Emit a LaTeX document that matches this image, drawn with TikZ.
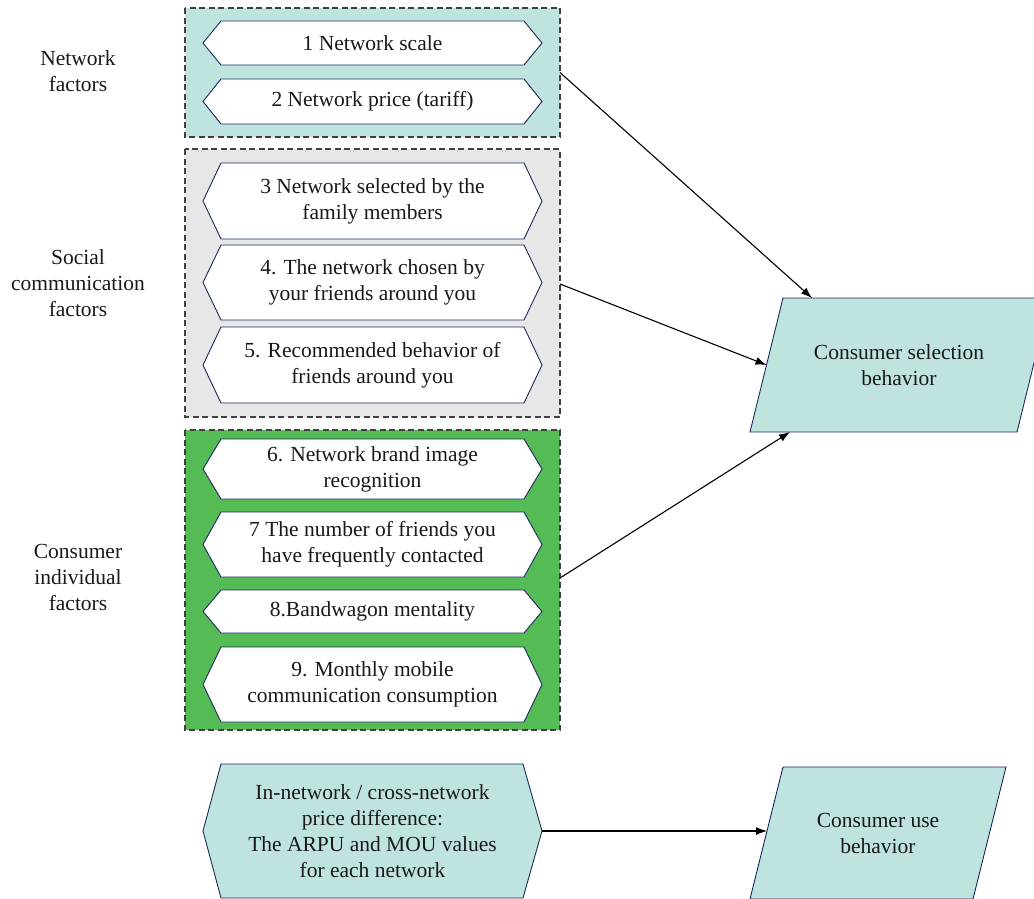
\documentclass[tikz,border=0pt]{standalone}
\usepackage{fontspec}
\setmainfont{Liberation Serif}
\newfontfamily\serfont{Liberation Serif}
\usetikzlibrary{arrows.meta,calc}
\definecolor{teal}{HTML}{BFE4E0}
\definecolor{lgray}{HTML}{E6E7E7}
\definecolor{grn}{HTML}{55BB55}
\definecolor{navy}{HTML}{1B2A5C}
\definecolor{dashc}{HTML}{404040}
\tikzset{
  hexline/.style={draw=navy,line width=0.9pt,fill=white,line join=miter},
  grpbox/.style={draw=dashc,line width=1.1pt,dash pattern=on 6pt off 3.5pt},
  txt/.style={align=center,inner sep=0pt,font=\serfont\fontsize{21.5}{26}\selectfont,text=black!90},
  arr/.style={line width=1.1pt,-{Latex[length=11pt,width=8pt]}},
}
\newcommand\hexbox[7]{% name, xl, xr, yt, yb, fill, text
  \draw[hexline,fill=#6] (#2,{(#4+#5)/2}) -- (#2+18,#4) -- (#3-18,#4) -- (#3,{(#4+#5)/2}) -- (#3-18,#5) -- (#2+18,#5) -- cycle;
  \node[txt] (#1) at ({(#2+#3)/2},{(#4+#5)/2}) {#7};}
\begin{document}
\begin{tikzpicture}[x=1pt,y=-1pt]
\useasboundingbox (0,0) rectangle (1034,898);
\begin{scope}
\clip (0,0) rectangle (1034,898);
% group boxes
\path[fill=teal,grpbox] (185,8) rectangle (560,137);
\path[fill=lgray,grpbox] (185,149) rectangle (560,417);
\path[fill=grn,grpbox] (185,430) rectangle (560,730);
\coordinate (g1) at (560,72.5);
\coordinate (g2) at (560,284);
\coordinate (g3) at (560,578);
% factor hexagons
\hexbox{h1}{203}{542}{21}{65}{white}{1 Network scale}
\hexbox{h2}{203}{542}{79}{124}{white}{2 Network price (tariff)}
\hexbox{h3}{203}{542}{163}{239}{white}{3 Network selected by the\\family members}
\hexbox{h4}{203}{542}{245}{320}{white}{4. The network chosen by\\your friends around you}
\hexbox{h5}{203}{542}{327}{403}{white}{5. Recommended behavior of\\friends around you}
\hexbox{h6}{203}{542}{439}{499}{white}{6. Network brand image\\recognition}
\hexbox{h7}{203}{542}{512}{577}{white}{7 The number of friends you\\have frequently contacted}
\hexbox{h8}{203}{542}{590}{633}{white}{8.Bandwagon mentality}
\hexbox{h9}{203}{542}{647}{722}{white}{9. Monthly mobile\\communication consumption}
% bottom hexagon
\draw[hexline,fill=teal] (203,831) -- (221,764) -- (523,764) -- (542,831) -- (523,898) -- (221,898) -- cycle;
\node[txt] (price) at (372.5,831) {In-network / cross-network\\price difference:\\The ARPU and MOU values\\for each network};
\coordinate (priceR) at (542,831);
% parallelograms
\draw[hexline,fill=teal] (783,298) -- (1050,298) -- (1017,432) -- (750,432) -- cycle;
\node[txt] (sel) at (899,365) {Consumer selection\\behavior};
\coordinate (selT) at (812,298);
\coordinate (selL) at (766.5,365);
\coordinate (selB) at (790,432);
\draw[hexline,fill=teal] (783,767) -- (1006,767) -- (973,899) -- (750,899) -- cycle;
\node[txt] (use) at (878,833) {Consumer use\\behavior};
\coordinate (useL) at (767,831);
% labels
\node[txt] (lab1) at (78,71) {Network\\factors};
\node[txt] (lab2) at (78,283) {Social\\communication\\factors};
\node[txt] (lab3) at (78,577) {Consumer\\individual\\factors};
% arrows
\draw[arr] (g1) -- (selT);
\draw[arr] (g2) -- (selL);
\draw[arr] (g3) -- (selB);
\draw[arr] (priceR) -- (useL);
\end{scope}
\end{tikzpicture}
\end{document}
